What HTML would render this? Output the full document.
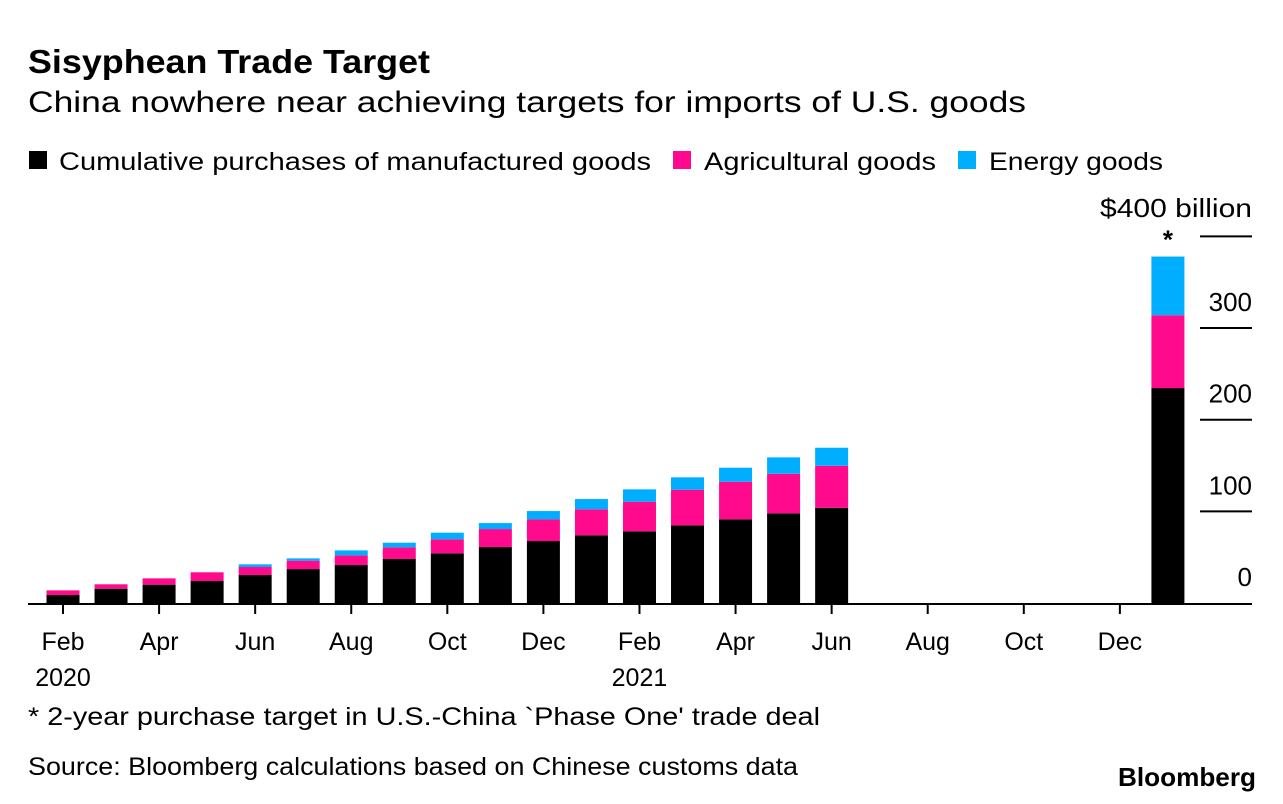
<!DOCTYPE html>
<html><head><meta charset="utf-8"><style>
html,body{margin:0;padding:0;background:#fff;}
svg{display:block;font-family:"Liberation Sans",Arial,sans-serif;}
</style></head><body>
<svg id="chart" width="1283" height="804" viewBox="0 0 1283 804">
<text x="28" y="73" font-size="33" font-weight="bold" textLength="402" lengthAdjust="spacingAndGlyphs">Sisyphean Trade Target</text>
<text x="28" y="112" font-size="30" textLength="998" lengthAdjust="spacingAndGlyphs">China nowhere near achieving targets for imports of U.S. goods</text>
<g>
<rect x="29" y="151" width="18" height="18" fill="#000"/>
<text x="59" y="170" font-size="25" textLength="592" lengthAdjust="spacingAndGlyphs">Cumulative purchases of manufactured goods</text>
<rect x="673" y="151" width="18" height="18" fill="#ff0a8c"/>
<text x="704" y="170" font-size="25" textLength="232" lengthAdjust="spacingAndGlyphs">Agricultural goods</text>
<rect x="958" y="151" width="18" height="18" fill="#00aeff"/>
<text x="989" y="170" font-size="25" textLength="174" lengthAdjust="spacingAndGlyphs">Energy goods</text>
</g>
<g id="grid"></g>
<g id="bars"></g>
<g id="xaxis"></g>
<text x="28" y="725" font-size="25" textLength="792" lengthAdjust="spacingAndGlyphs">* 2-year purchase target in U.S.-China `Phase One' trade deal</text>
<text x="28" y="775" font-size="25" textLength="770" lengthAdjust="spacingAndGlyphs">Source: Bloomberg calculations based on Chinese customs data</text>
<text x="1256" y="786" font-size="26" font-weight="bold" text-anchor="end" textLength="138" lengthAdjust="spacingAndGlyphs">Bloomberg</text>
</svg>
<script>
const categories = ["Feb 2020","Mar 2020","Apr 2020","May 2020","Jun 2020","Jul 2020","Aug 2020","Sep 2020","Oct 2020","Nov 2020","Dec 2020","Jan 2021","Feb 2021","Mar 2021","Apr 2021","May 2021","Jun 2021","Target"];
const manufactured = [8.7,15.6,20,24,30.5,37,41.4,48,54.2,61,67.6,73.8,78.2,84.7,91.3,97.8,103.9,234.5];
const agricultural = [5.1,4.8,6.9,9.5,8.8,9.2,10.6,12.7,15.3,19.7,23.6,28.4,32.3,38.9,41,43.2,45.8,79.5];
const energy = [0,0,0,0,2.9,2.5,5.4,5.1,7.2,6.5,9.1,11.2,13.5,13.5,15.3,17.9,19.7,64];
const monthIndex = [0,1,2,3,4,5,6,7,8,9,10,11,12,13,14,15,16,23];
const yTicks = [0,100,200,300,400];
const xTickLabels = [["Feb","2020"],["Apr",""],["Jun",""],["Aug",""],["Oct",""],["Dec",""],["Feb","2021"],["Apr",""],["Jun",""],["Aug",""],["Oct",""],["Dec",""]];
const xTickMonths = [0,2,4,6,8,10,12,14,16,18,20,22];

const NS="http://www.w3.org/2000/svg";
const y0=603, pxPer=0.9165;
const y=v=>y0-v*pxPer;
const x=m=>63+m*48.04;
function mk(tag,attrs,parent){const e=document.createElementNS(NS,tag);for(const k in attrs)e.setAttribute(k,attrs[k]);parent.appendChild(e);return e;}
const grid=document.getElementById('grid'),bars=document.getElementById('bars'),xa=document.getElementById('xaxis');
yTicks.forEach(t=>{
  if(t>0){const l=mk('line',{x1:1200,x2:1252,y1:y(t),y2:y(t),stroke:'#000','stroke-width':2},grid);
  
  }
  const attrs={x:1252,y:t===400?217:y(t)-17,'font-size':26,'text-anchor':'end'};
  if(t===400){attrs.textLength=152;attrs.lengthAdjust='spacingAndGlyphs';}
  const tx=mk('text',attrs,grid);
  tx.textContent=t===400?'$400 billion':String(t);
  
  
});
categories.forEach((c,i)=>{
  const cx=x(monthIndex[i]),w=33;
  const g=mk('g',{},bars);
  
  
  let base=0;
  [[manufactured[i],'#000','manufactured'],[agricultural[i],'#ff0a8c','agricultural'],[energy[i],'#00aeff','energy']].forEach(([v,col,n])=>{
    if(v<=0)return;
    const r=mk('rect',{x:cx-w/2,y:y(base+v),width:w,height:v*pxPer,fill:col},g);
    
    
    base+=v;
  });
  if(c==='Target'){const s=mk('text',{x:cx,y:y(base)-8,'font-size':26,'font-weight':'bold','text-anchor':'middle'},g);s.textContent='*';
    
    }
});
const ax=mk('line',{x1:28,x2:1252,y1:y0+1,y2:y0+1,stroke:'#000','stroke-width':2},xa);


xTickMonths.forEach((m,i)=>{
  const tk=mk('line',{x1:x(m),x2:x(m),y1:y0+1,y2:y0+11,stroke:'#000','stroke-width':2},xa);
  
  
  const t=mk('text',{x:x(m),y:650,'font-size':25,'text-anchor':'middle'},xa);
  t.textContent=xTickLabels[i][0];
  
  
  if(xTickLabels[i][1]){const t2=mk('text',{x:x(m),y:686,'font-size':25,'text-anchor':'middle'},xa);t2.textContent=xTickLabels[i][1];
    
    }
});
</script>
</body></html>
